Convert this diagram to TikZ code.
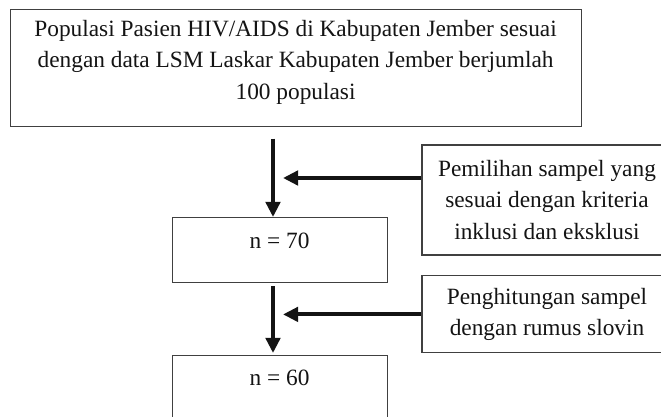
\documentclass[tikz,border=0pt]{standalone}
\usepackage{fontspec}
\setmainfont{Liberation Serif}
\usepackage{tikz}
\usetikzlibrary{arrows.meta, positioning}
\definecolor{boxline}{RGB}{64, 64, 64}
\definecolor{inkblack}{RGB}{20, 20, 20}
\tikzset{
    box/.style={
        rectangle, draw=boxline, line width=0.8pt, fill=white, text=inkblack,
        font=\fontsize{16.6}{22.5}\selectfont, align=center, inner sep=0pt
    },
    countbox/.style={box, anchor=north, minimum width=5.375cm, inner ysep=0pt},
    arrow/.style={-{Triangle[length=0.38cm, width=0.36cm]}, line width=0.1cm, color=inkblack},
}

\begin{document}
\begin{tikzpicture}
    \clip (0, 0) rectangle (16.525, -10.4);

    \node[box, minimum width=14.275cm, minimum height=2.925cm] (populasi) at (7.39, -1.69)
        {Populasi Pasien HIV/AIDS di Kabupaten Jember sesuai\\dengan data LSM Laskar Kabupaten Jember berjumlah\\100 populasi\\[-0.4cm]};

    \node[box, minimum width=6.25cm, minimum height=2.75cm] (pemilihan) at (13.675, -5.0)
        {Pemilihan sampel yang\\sesuai dengan kriteria\\inklusi dan eksklusi};

    \node[countbox, text height=0.78cm, text depth=0.85cm] (n70) at (6.99, -5.425) {n = 70};

    \node[box, minimum width=6.25cm, minimum height=1.925cm] (hitung) at (13.675, -7.86)
        {Penghitungan sampel\\dengan rumus slovin};

    \node[countbox, text height=0.75cm, text depth=1.0cm] (n60) at (6.99, -8.875) {n = 60};

    \coordinate (hit1) at (7.075, -4.45);
    \coordinate (hit2) at (7.075, -7.86);

    \draw[arrow, shorten <=0.3cm] ([xshift=-0.165cm]n70.north |- populasi.south) -- ([xshift=-0.165cm]n70.north);
    \draw[arrow] (pemilihan.west |- hit1) -- (hit1);
    \draw[arrow, shorten <=0.075cm, shorten >=0.05cm] ([xshift=-0.165cm]n70.south) -- ([xshift=-0.165cm]n60.north);
    \draw[arrow] (hitung.west) -- (hit2);
\end{tikzpicture}
\end{document}
